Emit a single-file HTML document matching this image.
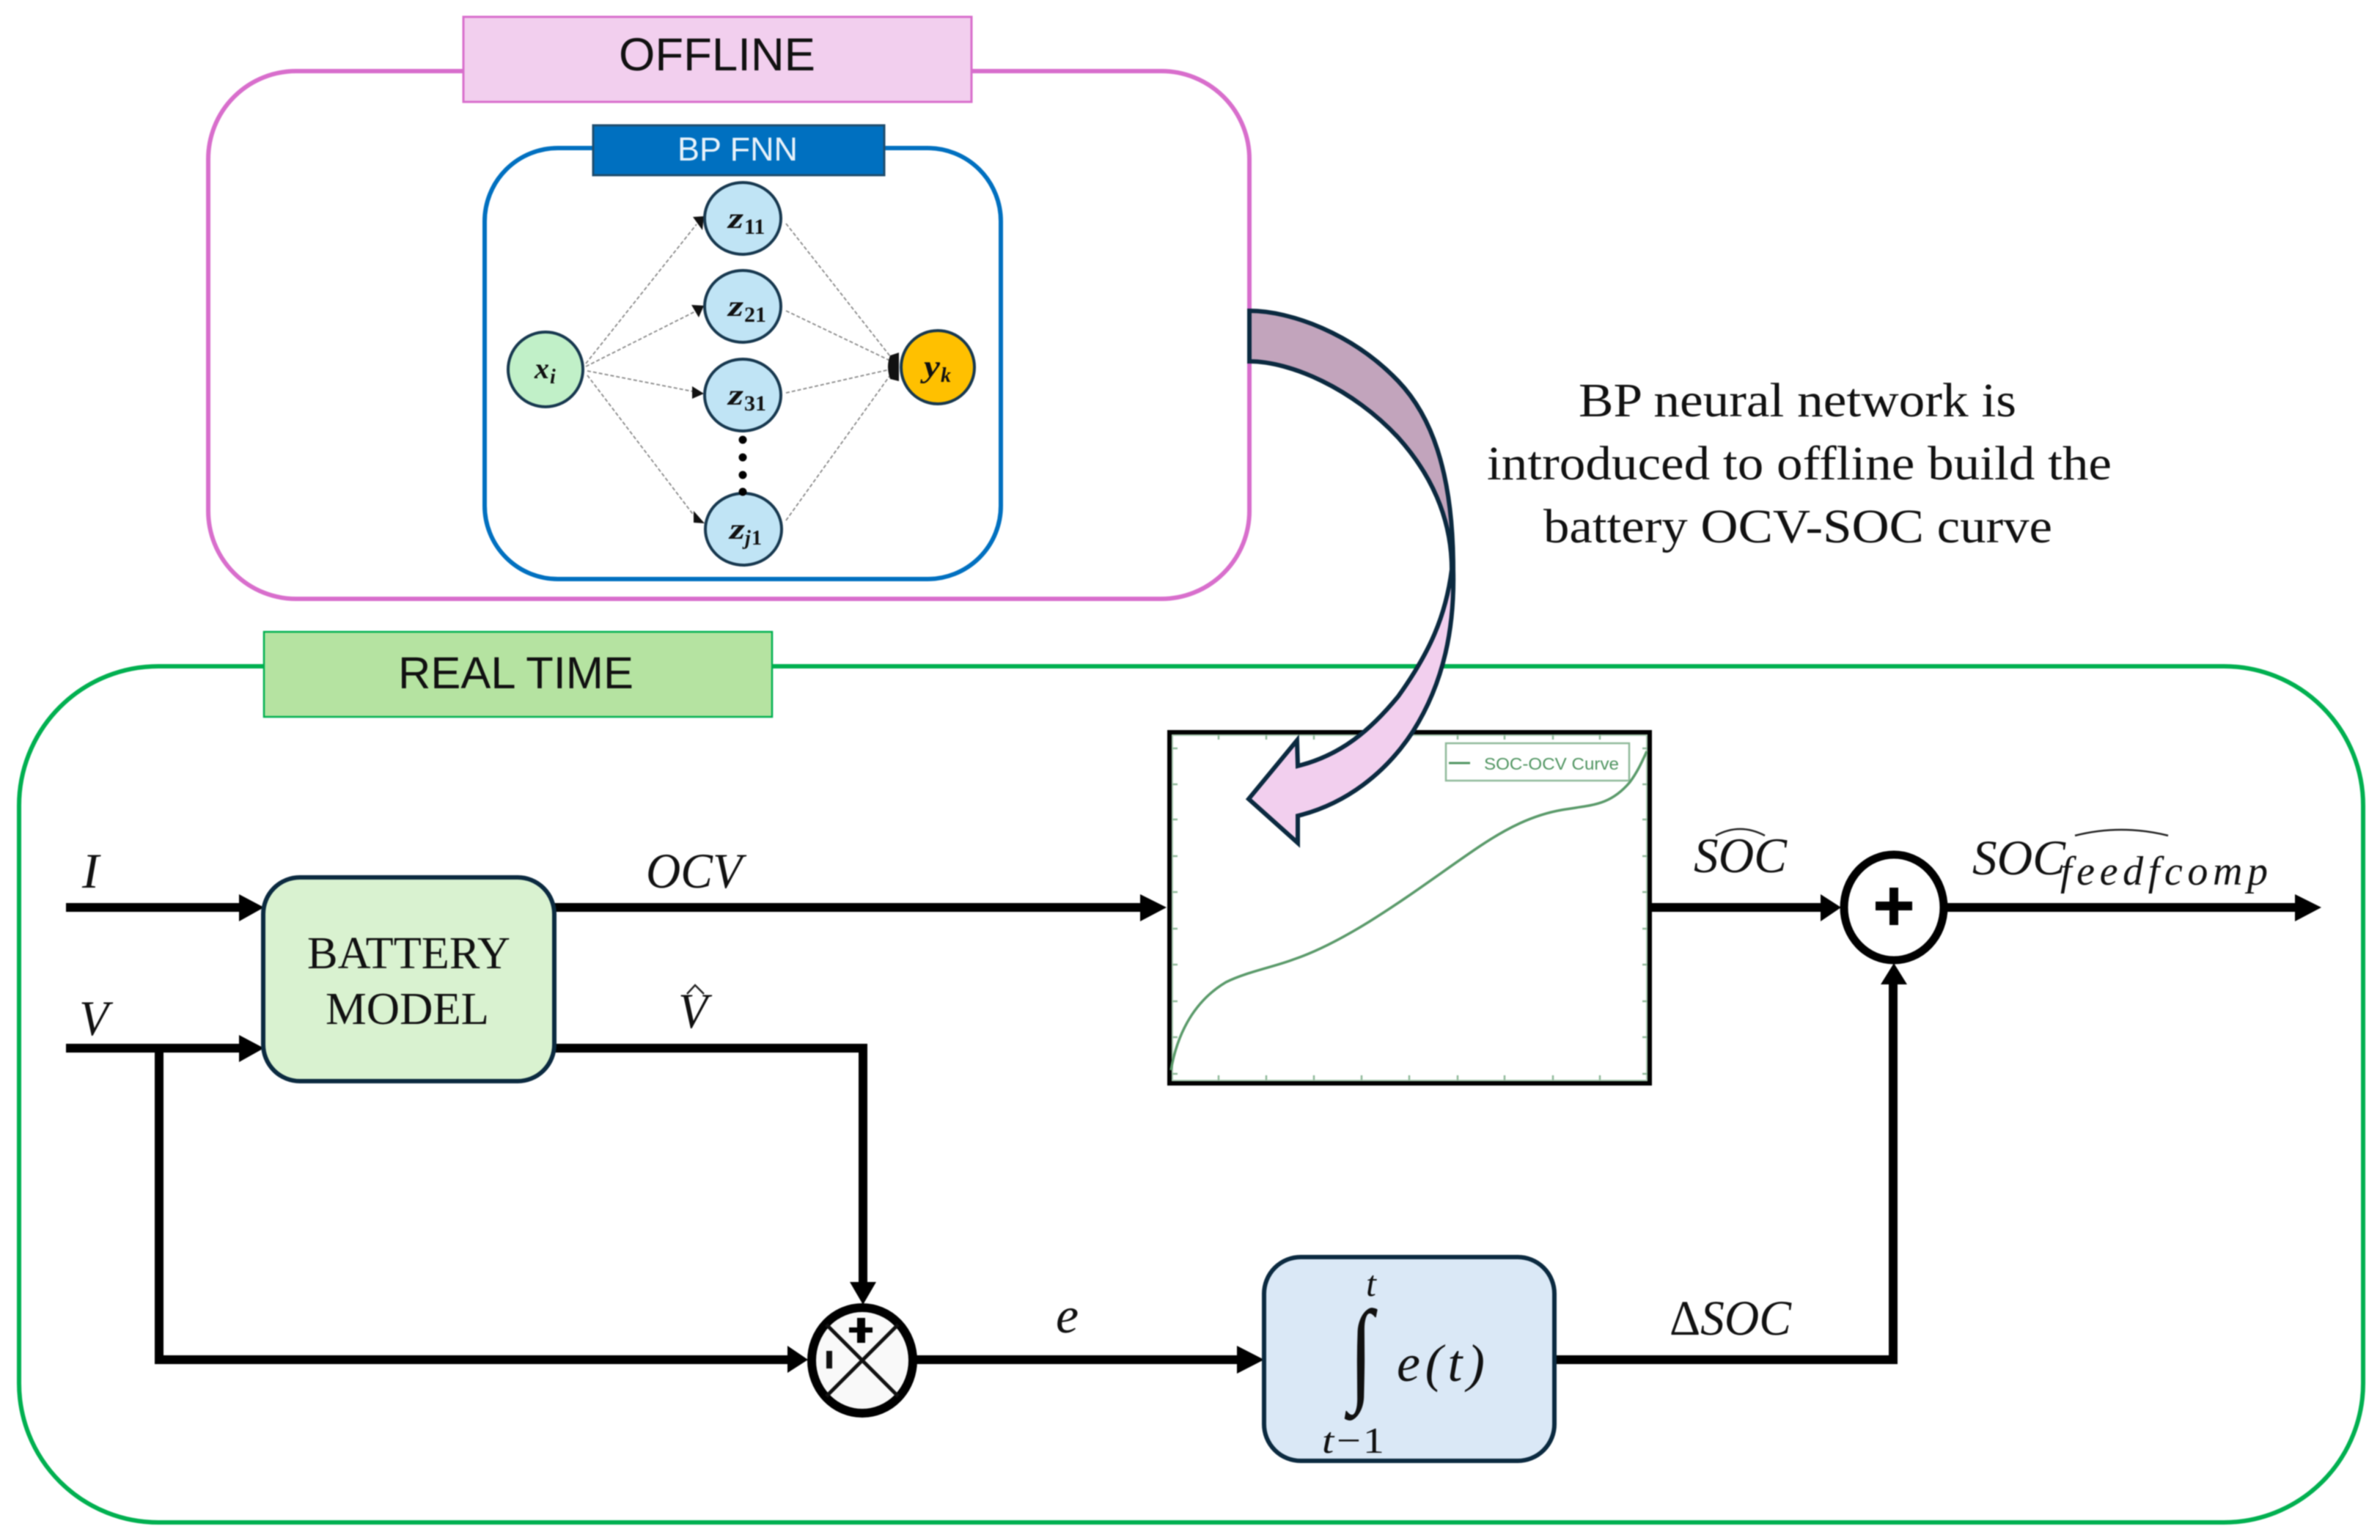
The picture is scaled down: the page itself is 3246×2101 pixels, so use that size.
<!DOCTYPE html>
<html><head><meta charset="utf-8"><style>
html,body{margin:0;padding:0;background:#fff}
svg{display:block;width:3246px;height:2101px;filter:blur(0.8px)}
.s{font-family:"Liberation Serif",serif;font-style:normal}
.i{font-family:"Liberation Serif",serif;font-style:italic}
.a{font-family:"Liberation Sans",sans-serif}
.b{font-family:"Liberation Serif",serif;font-style:italic;font-weight:bold}
.n{font-family:"Liberation Serif",serif;font-weight:bold}
</style></head><body>
<svg xmlns="http://www.w3.org/2000/svg" viewBox="0 0 3246 2101" width="3246" height="2101">
<rect width="3246" height="2101" fill="#fff"/>
<!-- real time frame -->
<rect x="26" y="909" width="3197" height="1168" rx="190" fill="#fff" stroke="#00b050" stroke-width="6"/>
<rect x="360" y="862" width="693" height="116" fill="#b5e3a1" stroke="#00b050" stroke-width="2.5"/>
<text class="a" x="543" y="939" font-size="61" textLength="321" lengthAdjust="spacingAndGlyphs" fill="#111">REAL TIME</text>
<!-- offline frame -->
<rect x="284" y="97" width="1420" height="720" rx="120" fill="#fff" stroke="#d86ecc" stroke-width="6"/>
<rect x="632" y="23" width="693" height="116" fill="#f2cfee" stroke="#d86ecc" stroke-width="3"/>
<text class="a" x="844" y="96" font-size="63" textLength="268" lengthAdjust="spacingAndGlyphs" fill="#111">OFFLINE</text>
<!-- BP FNN -->
<rect x="661" y="202" width="704" height="588" rx="100" fill="#fff" stroke="#0070c0" stroke-width="6"/>
<rect x="809" y="171" width="397" height="68" fill="#0070c0" stroke="#1f4e6f" stroke-width="3"/>
<text class="a" x="924" y="219" font-size="45" textLength="164" lengthAdjust="spacingAndGlyphs" fill="#e8f2fa">BP FNN</text>
<g stroke="#888" stroke-width="1.8" stroke-dasharray="5 3" fill="none">
<path d="M799 496L950 306M799 500L950 424M801 506L950 535M801 512L950 708"/>
<path d="M1072 305L1214 486M1072 424L1214 492M1072 536L1214 504M1072 710L1214 512"/>
</g>
<g fill="#111">
<path d="M945 296L960 295L958 314Z"/>
<path d="M943 416L960 417L953 433Z"/>
<path d="M944 527L960 537L944 544Z"/>
<path d="M946 697L961 714L946 713Z"/>
<path d="M1226 481L1226 520L1214 517Q1208 500 1214 485Z"/>
</g>
<g stroke="#17384f" stroke-width="4">
<ellipse cx="744" cy="504" rx="51" ry="51" fill="#c1f0c8"/>
<ellipse cx="1013" cy="298" rx="52" ry="49" fill="#c0e4f5"/>
<ellipse cx="1013" cy="418" rx="52" ry="49" fill="#c0e4f5"/>
<ellipse cx="1013" cy="539" rx="52" ry="49" fill="#c0e4f5"/>
<ellipse cx="1014" cy="722" rx="52" ry="49" fill="#c0e4f5"/>
<ellipse cx="1279" cy="501" rx="50" ry="50" fill="#ffc000"/>
</g>
<g fill="#000">
<circle cx="1013" cy="600" r="5.5"/><circle cx="1013" cy="624" r="5.5"/><circle cx="1013" cy="648" r="5.5"/><circle cx="1013" cy="671" r="5.5"/>
</g>
<g fill="#111">
<text class="b" x="729" y="516" font-size="40" textLength="20" lengthAdjust="spacingAndGlyphs">x</text><text class="b" x="750" y="523" font-size="28">i</text>
<text class="b" x="1260" y="514" font-size="42" textLength="22" lengthAdjust="spacingAndGlyphs">y</text><text class="b" x="1283" y="521" font-size="28">k</text>
<text class="b" x="993" y="311" font-size="40" textLength="21" lengthAdjust="spacingAndGlyphs">z</text><text class="n" x="1015" y="319" font-size="30">11</text>
<text class="b" x="993" y="431" font-size="40" textLength="21" lengthAdjust="spacingAndGlyphs">z</text><text class="n" x="1015" y="439" font-size="30">21</text>
<text class="b" x="993" y="552" font-size="40" textLength="21" lengthAdjust="spacingAndGlyphs">z</text><text class="n" x="1015" y="560" font-size="30">31</text>
<text class="b" x="995" y="735" font-size="40" textLength="21" lengthAdjust="spacingAndGlyphs">z</text><text class="b" x="1016" y="743" font-size="28">j</text><text class="n" x="1025" y="743" font-size="28">1</text>
</g>
<!-- description -->
<g fill="#111">
<text class="s" x="2153" y="568" font-size="66" textLength="597" lengthAdjust="spacingAndGlyphs">BP neural network is</text>
<text class="s" x="2028" y="654" font-size="66" textLength="852" lengthAdjust="spacingAndGlyphs">introduced to offline build the</text>
<text class="s" x="2105" y="740" font-size="66" textLength="694" lengthAdjust="spacingAndGlyphs">battery OCV-SOC curve</text>
</g>
<!-- plot -->
<rect x="1595" y="999" width="655" height="479" fill="#fff" stroke="#000" stroke-width="6"/>
<rect x="1599" y="1003" width="647" height="471" fill="none" stroke="#a9c9b0" stroke-width="2"/>
<g stroke="#8fb99a" stroke-width="2.5" fill="none">
<path d="M1662 1474v-7M1727 1474v-7M1792 1474v-7M1857 1474v-7M1922 1474v-7M1988 1474v-7M2052 1474v-7M2118 1474v-7M2182 1474v-7"/>
<path d="M1662 1002v7M1727 1002v7M1792 1002v7M1857 1002v7M1922 1002v7M1988 1002v7M2052 1002v7M2118 1002v7M2182 1002v7"/>
<path d="M1599 1021h7M1599 1070h7M1599 1118h7M1599 1168h7M1599 1217h7M1599 1267h7M1599 1316h7M1599 1366h7M1599 1415h7M1599 1465h7"/>
<path d="M2247 1021h-7M2247 1070h-7M2247 1118h-7M2247 1168h-7M2247 1217h-7M2247 1267h-7M2247 1316h-7M2247 1366h-7M2247 1415h-7M2247 1465h-7"/>
<rect x="1972" y="1014" width="250" height="51" fill="#fff" stroke="#8fb99a" stroke-width="2.5"/>
<path d="M1976 1041h29" stroke="#4f9460" stroke-width="3"/>
</g>
<text class="a" x="2024" y="1050" font-size="23.5" textLength="184" lengthAdjust="spacingAndGlyphs" fill="#4f9460">SOC-OCV Curve</text>
<path d="M1597 1460C1606 1408 1630 1365 1672 1340C1700 1326 1738 1319 1764 1309C1850 1280 1950 1200 2019 1154C2055 1130 2090 1112 2130 1105C2170 1098 2195 1100 2223 1067C2234 1052 2240 1038 2246 1025" fill="none" stroke="#5a9a6a" stroke-width="3.5"/>
<!-- wires -->
<g stroke="#000" stroke-width="12" fill="none">
<path d="M90 1238H330M756 1238H1560M2251 1238H2486M2650 1238H3135"/>
<path d="M90 1430H330M217 1430V1855H1078"/>
<path d="M756 1430H1177V1752"/>
<path d="M1245 1855H1690M2119 1855H2582V1340"/>
</g>
<g fill="#000">
<path d="M326 1220L360 1238L326 1257Z"/>
<path d="M326 1412L360 1430L326 1449Z"/>
<path d="M1555 1220L1591 1238L1555 1257Z"/>
<path d="M2483 1220L2511 1238L2483 1257Z"/>
<path d="M3130 1220L3166 1238L3130 1257Z"/>
<path d="M1159 1749H1195L1177 1780Z"/>
<path d="M1074 1836L1102 1855L1074 1873Z"/>
<path d="M1687 1836L1724 1855L1687 1874Z"/>
<path d="M2565 1343L2583 1314L2601 1343Z"/>
</g>
<!-- plus junction -->
<ellipse cx="2583" cy="1238" rx="68" ry="72" fill="#fff" stroke="#000" stroke-width="11"/>
<path d="M2558 1230H2608V1242H2558ZM2577 1211H2589V1262H2577Z" fill="#000"/>
<!-- x junction -->
<ellipse cx="1176" cy="1856" rx="69" ry="72" fill="#f9f9f9" stroke="#000" stroke-width="12"/>
<path d="M1127 1807L1225 1905M1225 1807L1127 1905" stroke="#111" stroke-width="5"/>
<path d="M1158 1811H1190V1818H1158ZM1169 1798H1180V1832H1169Z" fill="#000"/>
<rect x="1127" y="1843" width="8" height="24" fill="#111"/>
<!-- battery -->
<rect x="359" y="1197" width="397" height="278" rx="50" fill="#d9f2d0" stroke="#0b2a40" stroke-width="6"/>
<text class="s" x="419" y="1321" font-size="62" textLength="277" lengthAdjust="spacingAndGlyphs" fill="#111">BATTERY</text>
<text class="s" x="444" y="1397" font-size="62" textLength="223" lengthAdjust="spacingAndGlyphs" fill="#111">MODEL</text>
<!-- integrator -->
<rect x="1724" y="1715" width="396" height="278" rx="50" fill="#dae8f6" stroke="#0b2a40" stroke-width="6"/>
<text class="i" x="1863" y="1768" font-size="50" fill="#111">t</text>
<text class="i" x="0" y="0" font-size="140" fill="#111" transform="translate(1840 1896) scale(.85 1.12)">∫</text>
<text class="i" x="1905" y="1884" font-size="72" textLength="120" lengthAdjust="spacing" fill="#111">e(t)</text>
<text class="i" x="1803" y="1982" font-size="50" textLength="85" lengthAdjust="spacingAndGlyphs" fill="#111">t−<tspan class="s">1</tspan></text>
<!-- math labels -->
<g fill="#111">
<text class="i" x="112" y="1211" font-size="68" textLength="23" lengthAdjust="spacingAndGlyphs">I</text>
<text class="i" x="108" y="1412" font-size="68" textLength="40" lengthAdjust="spacingAndGlyphs">V</text>
<text class="i" x="881" y="1211" font-size="68" textLength="131" lengthAdjust="spacingAndGlyphs">OCV</text>
<text class="i" x="925" y="1402" font-size="68" textLength="40" lengthAdjust="spacingAndGlyphs">V</text>
<text class="i" x="1440" y="1818" font-size="70">e</text>
<text class="i" x="2277" y="1821" font-size="68" textLength="166" lengthAdjust="spacingAndGlyphs"><tspan class="s">Δ</tspan>SOC</text>
<text class="i" x="2310" y="1190" font-size="68" textLength="127" lengthAdjust="spacingAndGlyphs">SOC</text>
<text class="i" x="2690" y="1193" font-size="68" textLength="127" lengthAdjust="spacingAndGlyphs">SOC</text>
<text class="i" x="2810" y="1207" font-size="56" textLength="283" lengthAdjust="spacing">feedfcomp</text>
</g>
<g fill="none" stroke="#222" stroke-width="2.5">
<path d="M937 1356L948 1344L960 1356"/>
<path d="M2340 1140Q2373 1122 2407 1140"/>
<path d="M2830 1140Q2893 1124 2957 1140"/>
</g>
<!-- curved arrow -->
<path d="M1704 424C1760 424 1845 455 1907 520C1950 565 1982 640 1982 777C1980 705 1950 645 1907 597C1845 530 1760 493 1704 493Z" fill="#c2a4bc"/>
<path d="M1982 777C1984 855 1970 930 1927 998C1890 1055 1835 1097 1770 1113L1770 1150L1703 1090L1769 1010L1770 1045C1830 1030 1870 995 1907 950C1950 890 1972 840 1980 777Z" fill="#f2cfee"/>
<g fill="none" stroke="#0b2a40" stroke-width="6" stroke-linejoin="miter">
<path d="M1704 493V424C1760 424 1845 455 1907 520C1950 565 1982 640 1982 777C1984 855 1970 930 1927 998C1890 1055 1835 1097 1770 1113L1770 1150L1703 1090L1769 1010L1770 1045C1830 1030 1870 995 1907 950C1950 890 1972 840 1980 777C1980 705 1950 645 1907 597C1845 530 1760 493 1704 493Z"/>
</g>
</svg>
</body></html>
